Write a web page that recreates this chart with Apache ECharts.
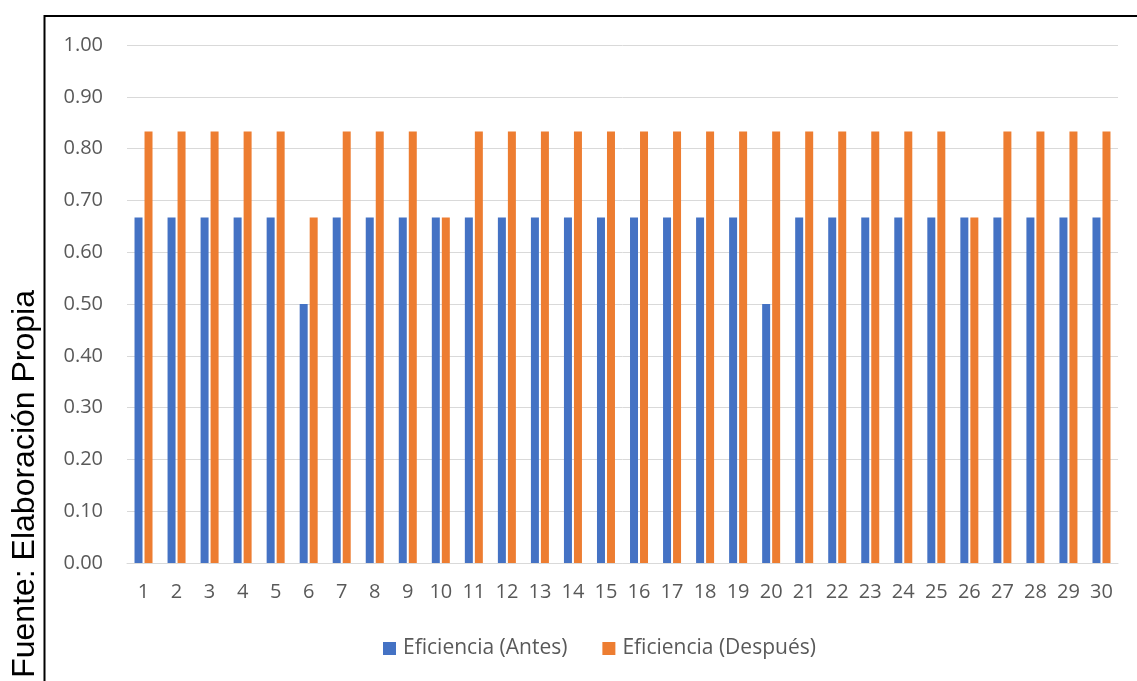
<!DOCTYPE html>
<html>
<head>
<meta charset="utf-8">
<script src="https://cdn.jsdelivr.net/npm/echarts@6/dist/echarts.min.js"></script>
<style>
  html, body { margin: 0; padding: 0; background: #fff; }
  #chart { width: 1137px; height: 681px; }
</style>
</head>
<body>
<div id="chart"></div>
<script>
// Observations 1..30
const categories = ['1','2','3','4','5','6','7','8','9','10','11','12','13','14','15','16','17','18','19','20','21','22','23','24','25','26','27','28','29','30'];
const eficienciaAntes = [0.667,0.667,0.667,0.667,0.667,0.5,0.667,0.667,0.667,0.667,0.667,0.667,0.667,0.667,0.667,0.667,0.667,0.667,0.667,0.5,0.667,0.667,0.667,0.667,0.667,0.667,0.667,0.667,0.667,0.667];
const eficienciaDespues = [0.833,0.833,0.833,0.833,0.833,0.667,0.833,0.833,0.833,0.667,0.833,0.833,0.833,0.833,0.833,0.833,0.833,0.833,0.833,0.833,0.833,0.833,0.833,0.833,0.833,0.667,0.833,0.833,0.833,0.833];
const seriesNames = ['Eficiencia (Antes)', 'Eficiencia (Después)'];
const sourceNote = 'Fuente: Elaboración Propia';

const chart = echarts.init(document.getElementById('chart'));
const labelFont = '"Open Sans", "Noto Sans", sans-serif';

chart.setOption({
  animation: false,
  textStyle: { fontFamily: labelFont },
  grid: { left: 127, right: 19, top: 45, bottom: 118, containLabel: false },
  legend: {
    top: 638,
    left: 383,
    padding: 0,
    itemWidth: 13,
    itemHeight: 13,
    itemGap: 35,
    icon: 'rect',
    textStyle: { color: '#595959', fontSize: 21, fontFamily: labelFont, padding: [0, 0, 0, 2] }
  },
  xAxis: {
    type: 'category',
    data: categories,
    axisTick: { show: false },
    axisLine: { lineStyle: { color: '#d9d9d9', width: 1 } },
    axisLabel: { color: '#595959', fontSize: 20, margin: 19, interval: 0 }
  },
  yAxis: {
    type: 'value',
    min: 0,
    max: 1,
    interval: 0.1,
    axisLine: { show: false },
    axisTick: { show: false },
    axisLabel: {
      color: '#595959', fontSize: 20, margin: 24,
      formatter: v => v.toFixed(2)
    },
    splitLine: { lineStyle: { color: '#d9d9d9', width: 1 } }
  },
  series: [
    {
      name: seriesNames[0],
      type: 'bar',
      data: eficienciaAntes,
      barWidth: 8,
      barGap: '25%',
      itemStyle: { color: '#4472c4' }
    },
    {
      name: seriesNames[1],
      type: 'bar',
      data: eficienciaDespues,
      barWidth: 8,
      barGap: '25%',
      itemStyle: { color: '#ed7d31' }
    }
  ],
  graphic: [
    {
      type: 'polyline',
      shape: { points: [[1137, 16], [44.5, 16], [44.5, 681]] },
      style: { stroke: '#000', lineWidth: 2, fill: null }
    },
    {
      type: 'text',
      x: 25,
      y: 290,
      rotation: Math.PI / 2,
      style: {
        text: sourceNote,
        fill: '#000',
        font: '32px "Liberation Sans", Arial, sans-serif',
        align: 'right',
        verticalAlign: 'middle'
      }
    }
  ]
});
</script>
</body>
</html>
